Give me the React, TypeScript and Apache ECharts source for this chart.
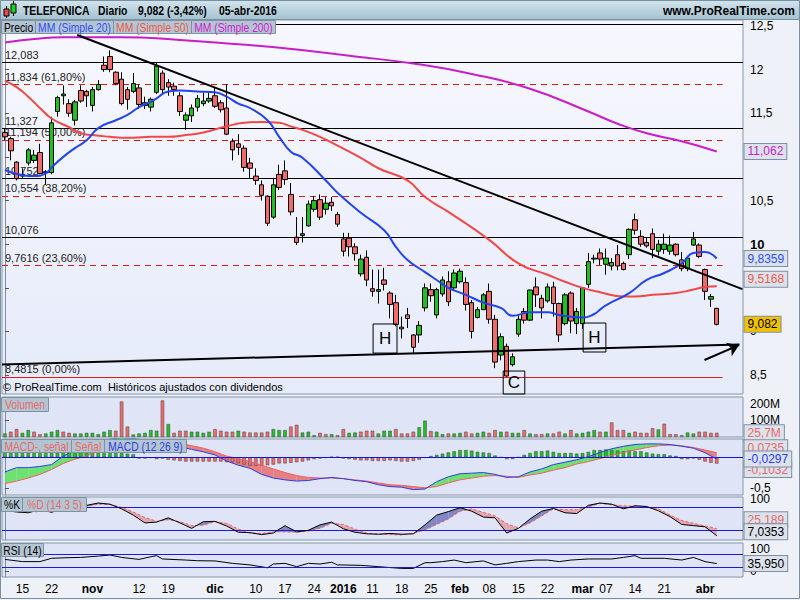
import React, { useEffect, useRef } from 'react';
import * as echarts from 'echarts';

const FONT = '"Liberation Sans", Arial, Helvetica, sans-serif';

// ---------- daily prices, 12-oct-2015 .. 05-abr-2016 (index 0..122) ----------
const openP = [
  11.28, 11.21, 10.94, 10.78, 10.93, 10.96, 11.05, 10.82, 10.82, 11.52,
  11.70, 11.61, 11.42, 11.76, 11.75, 11.59, 11.77, 12.05, 12.15, 11.97,
  11.89, 11.77, 11.75, 11.79, 11.59, 11.57, 11.74, 11.96, 11.85, 11.81,
  11.70, 11.42, 11.47, 11.57, 11.61, 11.64, 11.70, 11.62, 11.56, 11.18,
  11.15, 11.10, 10.93, 10.78, 10.68, 10.55, 10.31, 10.80, 10.84, 10.57,
  10.08, 10.10, 10.21, 10.40, 10.51, 10.40, 10.48, 10.34, 10.06, 10.07,
  9.97, 9.66, 9.85, 9.49, 9.46, 9.59, 9.44, 9.33, 9.05, 9.19,
  8.96, 8.96, 9.27, 9.48, 9.19, 9.43, 9.57, 9.50, 9.57, 9.56,
  9.33, 9.16, 9.25, 9.46, 9.14, 8.73, 8.83, 8.62, 8.97, 9.23,
  9.13, 9.51, 9.38, 9.35, 9.51, 9.32, 9.09, 9.44, 9.09, 9.09,
  9.54, 9.83, 9.90, 9.77, 9.75, 9.88, 9.78, 9.88, 10.28, 10.09,
  10.02, 10.12, 9.92, 9.94, 9.92, 10.00, 9.82, 9.72, 9.99, 9.99,
  9.71, 9.37, 9.265,
];
const highP = [
  11.33, 11.23, 10.95, 10.87, 11.10, 11.08, 11.15, 10.85, 11.46, 11.70,
  11.82, 11.66, 11.65, 11.82, 11.77, 11.80, 11.88, 12.15, 12.22, 11.98,
  11.97, 11.80, 11.96, 11.83, 11.69, 11.68, 12.08, 11.99, 11.89, 11.85,
  11.74, 11.51, 11.60, 11.71, 11.74, 11.75, 11.79, 11.65, 11.83, 11.21,
  11.26, 11.13, 10.99, 10.87, 10.73, 10.56, 10.76, 10.91, 10.96, 10.70,
  10.31, 10.31, 10.50, 10.55, 10.57, 10.54, 10.54, 10.37, 10.13, 10.13,
  10.01, 9.88, 9.93, 9.71, 9.71, 9.73, 9.46, 9.42, 9.17, 9.27,
  8.97, 9.12, 9.55, 9.55, 9.50, 9.63, 9.69, 9.71, 9.72, 9.62,
  9.36, 9.28, 9.44, 9.55, 9.19, 8.98, 8.86, 8.75, 9.19, 9.27,
  9.48, 9.62, 9.42, 9.55, 9.57, 9.33, 9.44, 9.46, 9.27, 9.51,
  9.90, 9.88, 9.95, 9.95, 9.84, 9.99, 9.80, 10.18, 10.35, 10.16,
  10.07, 10.18, 10.05, 10.12, 10.10, 10.01, 9.91, 9.86, 10.14, 10.01,
  9.72, 9.43, 9.27,
];
const lowP = [
  11.19, 10.96, 10.73, 10.76, 10.90, 10.93, 10.80, 10.68, 10.80, 11.46,
  11.60, 11.46, 11.36, 11.62, 11.57, 11.52, 11.76, 11.975, 11.97, 11.82,
  11.59, 11.54, 11.73, 11.55, 11.55, 11.52, 11.72, 11.71, 11.70, 11.70,
  11.47, 11.31, 11.40, 11.52, 11.58, 11.62, 11.56, 11.51, 11.25, 10.96,
  11.02, 10.83, 10.76, 10.68, 10.50, 10.21, 10.29, 10.62, 10.68, 10.33,
  9.99, 10.02, 10.20, 10.37, 10.28, 10.34, 10.38, 10.20, 9.86, 9.86,
  9.81, 9.63, 9.52, 9.40, 9.32, 9.47, 9.15, 9.06, 8.92, 9.04,
  8.74, 8.87, 9.23, 9.34, 9.15, 9.40, 9.29, 9.47, 9.55, 9.24,
  8.92, 9.15, 9.25, 9.09, 8.58, 8.67, 8.48, 8.60, 8.94, 9.09,
  9.12, 9.28, 9.15, 9.33, 9.17, 8.88, 9.07, 8.98, 8.97, 9.03,
  9.50, 9.78, 9.76, 9.65, 9.70, 9.70, 9.70, 9.83, 10.11, 9.97,
  9.96, 9.84, 9.87, 9.89, 9.88, 9.86, 9.69, 9.69, 9.98, 9.84,
  9.36, 9.28, 9.07,
];
const closeP = [
  11.23, 11.07, 10.75, 10.80, 11.08, 11.02, 10.81, 10.83, 11.39, 11.68,
  11.72, 11.50, 11.63, 11.64, 11.70, 11.77, 11.83, 12.00, 12.00, 11.84,
  11.61, 11.66, 11.84, 11.60, 11.62, 11.66, 12.04, 11.77, 11.80, 11.77,
  11.52, 11.48, 11.56, 11.67, 11.64, 11.67, 11.58, 11.54, 11.26, 11.08,
  11.11, 10.88, 10.87, 10.73, 10.56, 10.24, 10.68, 10.65, 10.74, 10.37,
  10.02, 10.12, 10.46, 10.50, 10.31, 10.47, 10.44, 10.23, 9.92, 9.97,
  9.89, 9.83, 9.59, 9.46, 9.48, 9.54, 9.31, 9.08, 9.03, 9.15,
  8.82, 9.07, 9.50, 9.41, 9.48, 9.59, 9.34, 9.67, 9.69, 9.31,
  9.00, 9.25, 9.42, 9.14, 8.65, 8.94, 8.49, 8.71, 9.14, 9.13,
  9.475, 9.42, 9.27, 9.51, 9.32, 8.96, 9.42, 9.12, 9.23, 9.50,
  9.80, 9.84, 9.83, 9.84, 9.79, 9.75, 9.71, 10.17, 10.16, 10.00,
  9.98, 9.94, 10.00, 10.00, 9.99, 9.88, 9.72, 9.84, 10.06, 9.86,
  9.46, 9.40, 9.082,
];

// volume in millions and bar colour (1 = green, 0 = red)
const volumeM = [
  21, 32, 48, 25, 42, 32, 17, 21, 32, 42,
  32, 25, 21, 21, 25, 25, 17, 32, 42, 38,
  215, 63, 15, 21, 25, 42, 38, 221, 78, 25,
  38, 38, 32, 32, 25, 32, 48, 38, 32, 32,
  38, 32, 27, 27, 27, 32, 48, 42, 42, 63,
  74, 27, 32, 11, 25, 17, 17, 11, 48, 25,
  27, 32, 38, 38, 21, 38, 38, 48, 21, 21,
  32, 59, 99, 36, 32, 17, 21, 21, 25, 32,
  21, 25, 32, 25, 42, 32, 32, 25, 25, 42,
  21, 17, 17, 21, 21, 32, 21, 42, 21, 25,
  32, 42, 32, 32, 88, 42, 42, 25, 32, 25,
  25, 53, 46, 80, 17, 17, 11, 27, 21, 32,
  32, 25, 25.7,
];
const volumeUp = [
  1, 0, 0, 1, 1, 0, 0, 1, 1, 1,
  0, 0, 1, 1, 1, 1, 1, 1, 1, 0,
  0, 0, 1, 1, 1, 1, 1, 0, 1, 0,
  0, 0, 1, 1, 1, 1, 0, 0, 0, 0,
  1, 0, 0, 0, 0, 0, 1, 1, 1, 0,
  0, 1, 1, 1, 0, 0, 1, 0, 0, 1,
  1, 0, 0, 0, 1, 1, 1, 0, 0, 0,
  0, 1, 1, 0, 1, 1, 0, 1, 1, 0,
  0, 1, 1, 0, 0, 1, 0, 1, 1, 0,
  1, 0, 0, 1, 0, 0, 1, 0, 1, 1,
  1, 1, 0, 1, 0, 0, 0, 1, 0, 0,
  0, 0, 1, 0, 0, 0, 0, 1, 1, 0,
  0, 0, 0,
];

// moving averages read at [index, value]
const ma20 = [[0,10.85],[3,10.79],[5,10.78],[7,10.81],[8,10.88],[10,11.00],[12,11.10],[14,11.19],[16,11.33],[19,11.42],[21,11.48],[23,11.57],[25,11.63],[26,11.67],[28,11.75],[30,11.76],[33,11.75],[36,11.74],[38,11.69],[40,11.61],[42,11.56],[45,11.42],[47,11.23],[49,11.06],[51,10.99],[55,10.73],[57,10.59],[61,10.36],[65,10.16],[67,9.97],[69,9.82],[72,9.68],[74,9.59],[76,9.50],[79,9.42],[82,9.33],[85,9.27],[87,9.18],[90,9.22],[93,9.22],[95,9.19],[97,9.17],[99,9.16],[101,9.20],[102,9.25],[103,9.30],[107,9.44],[110,9.59],[113,9.67],[116,9.78],[118,9.90],[120,9.91],[122,9.8359]];
const ma50 = [[0,11.87],[2,11.80],[4,11.69],[6,11.56],[8,11.44],[11,11.34],[13,11.27],[15,11.25],[18,11.23],[20,11.22],[22,11.22],[25,11.23],[28,11.23],[31,11.25],[34,11.28],[38,11.35],[41,11.39],[44,11.40],[47,11.39],[49,11.35],[51,11.31],[54,11.23],[57,11.13],[61,10.99],[64,10.87],[69,10.73],[72,10.54],[76,10.37],[83,10.05],[88,9.78],[93,9.65],[96,9.57],[99,9.50],[102,9.45],[106,9.40],[108,9.40],[111,9.42],[115,9.44],[118,9.48],[120,9.51],[122,9.5168]];
const ma200 = [[0,12.31],[5,12.35],[10,12.37],[20,12.37],[30,12.34],[40,12.29],[50,12.23],[60,12.15],[70,12.07],[80,11.95],[90,11.78],[100,11.52],[105,11.38],[110,11.27],[116,11.18],[122,11.062]];

// indicators read every second session
const indIdx = [0,2,4,6,8,10,12,14,16,18,20,22,24,26,28,30,32,34,36,38,40,42,44,46,48,50,52,54,56,58,60,62,64,66,68,70,72,74,76,78,80,82,84,86,88,90,92,94,96,98,100,102,104,106,108,110,112,114,116,118,120,122];
const macdLine = [-0.24,-0.17,-0.17,-0.15,-0.12,0.02,0.12,0.20,0.26,0.30, 0.32,0.31,0.28,0.26,0.22,0.17,0.13,0.09,0.04,-0.06, -0.13,-0.18,-0.28,-0.34,-0.37,-0.39,-0.38,-0.35,-0.33,-0.35, -0.38,-0.40,-0.45,-0.48,-0.49,-0.53,-0.52,-0.40,-0.32,-0.27, -0.26,-0.25,-0.28,-0.33,-0.32,-0.24,-0.19,-0.12,-0.08,-0.04, 0.01,0.08,0.14,0.18,0.21,0.22,0.22,0.21,0.18,0.15, 0.075,-0.0297];
const signalLine = [-0.43,-0.39,-0.34,-0.28,-0.20,-0.10,-0.03,0.02,0.10,0.16, 0.21,0.25,0.27,0.27,0.26,0.23,0.19,0.15,0.09,0.02, -0.02,-0.07,-0.13,-0.19,-0.25,-0.30,-0.33,-0.34,-0.34,-0.35, -0.37,-0.39,-0.42,-0.45,-0.46,-0.48,-0.50,-0.48,-0.42,-0.37, -0.34,-0.31,-0.30,-0.31,-0.33,-0.29,-0.26,-0.21,-0.17,-0.11, -0.07,-0.02,0.03,0.08,0.12,0.16,0.19,0.20,0.19,0.16, 0.12,0.0735];
const macdHist = [
  0.19,0.19,0.18,0.18,0.18,0.17,0.16,0.15,0.14,0.15,
  0.16,0.17,0.17,0.16,0.15,0.14,0.13,0.13,0.12,0.10,
  0.08,0.06,0.05,-0.02,-0.02,-0.01,-0.03,-0.02,-0.04,-0.05,
  -0.06,-0.07,-0.07,-0.07,-0.07,-0.07,-0.07,-0.07,-0.08,-0.08,
  -0.10,-0.12,-0.14,-0.14,-0.14,-0.13,-0.12,-0.10,-0.10,-0.09,
  -0.08,-0.07,-0.05,-0.03,-0.02,-0.01,0.01,0.01,-0.02,-0.03,
  -0.04,-0.05,-0.05,-0.06,-0.06,-0.06,-0.05,-0.06,-0.07,-0.07,
  -0.06,-0.04,-0.01,0.02,0.04,0.06,0.08,0.10,0.12,0.12,
  0.11,0.09,0.08,0.07,0.03,0.00,-0.03,-0.03,0.00,0.04,
  0.07,0.10,0.10,0.11,0.09,0.07,0.07,0.07,0.06,0.07,
  0.09,0.12,0.12,0.13,0.12,0.11,0.10,0.11,0.10,0.10,
  0.08,0.06,0.05,0.05,0.03,0.02,-0.03,-0.03,-0.02,-0.04,
  -0.07,-0.09,-0.1032,
];
const stochK = [72,68,66,75,67,78,80,85,91,88, 76,60,40,42,53,40,26,43,44,32, 16,15,10,14,33,17,21,35,42,25, 16,12,11,13,11,12,35,60,69,79, 70,55,53,14,26,50,70,77,66,64, 85,91,88,76,84,82,71,56,36,33, 30,7.0353];
const stochD = [70,70,68,69,70,72,76,82,88,87, 80,68,54,44,48,43,33,34,43,39, 24,14,13,17,17,16,19,26,39,36, 24,14,11,10,9,13,22,36,50,70, 76,67,58,38,27,40,58,76,74,74, 81,90,86,84,82,80,76,60,46,39, 32,25.189];
const rsiPts = [[0,55],[3,45],[6,45],[8,60],[11,63],[13,64],[16,70],[18,75],[20,64],[23,55],[25,67],[26,72],[27,57],[31,52],[33,49],[36,48],[39,37],[42,30],[45,17],[46,34],[48,37],[50,22],[52,37],[54,34],[56,42],[57,30],[61,28],[64,22],[68,14],[70,14],[72,40],[73,40],[75,45],[77,52],[79,40],[82,48],[84,30],[86,37],[88,45],[91,52],[93,52],[95,45],[97,52],[100,57],[104,57],[106,64],[108,72],[109,60],[113,60],[116,52],[118,64],[120,45],[122,35.95]];

// horizontal levels and their captions
const levelValues = [12.083, 11.834, 11.327, 11.194, 10.752, 10.554, 10.076, 9.7616, 8.4815];
const levelLabels = ['12,083', '11,834 (61,80%)', '11,327', '11,194 (50,00%)', '10,752', '10,554 (38,20%)', '10,076', '9,7616 (23,60%)', '8,4815 (0,00%)'];
const levelKind = ['solid', 'dash', 'solid', 'dash', 'solid', 'dash', 'solid', 'dash', 'red'];

// x axis ticks (session index -> label)
const xTickIdx = [3, 8, 15, 23, 28, 36, 43, 48, 53, 58, 63, 68, 73, 78, 83, 88, 93, 99, 103, 108, 113, 120];
const xTickText = ['15', '22', 'nov', '12', '19', 'dic', '10', '17', '24', '2016', '11', '18', '25', 'feb', '08', '15', '22', 'mar', '07', '14', '21', 'abr'];
const monthTicks = ['nov', 'dic', '2016', 'feb', 'mar', 'abr'];

const mainTicks = [8.5, 9, 9.5, 10, 10.5, 11, 11.5, 12, 12.5];
const mainTickLabels = [8.5, 9, 10, 10.5, 11.5, 12, 12.5];

const NCAT = 127;
const XMIN = -0.5;
const XMAX = 126.5;

const GREEN = '#20c020';
const RED = '#f06a6a';
const PANEL_BG = '#dfe5f7';
const BORDER = '#8797ab';

function fmtNum(v: number) {
  return String(v).replace('.', ',');
}

function tag(value: number, text: string, color: string, dy = 0, bg = '#dbe2ec') {
  return {
    coord: [XMAX, value],
    symbol: 'rect',
    symbolSize: 1,
    itemStyle: { color: 'rgba(0,0,0,0)' },
    label: {
      show: true, position: 'right', distance: 1, offset: [0, dy], formatter: text,
      color, backgroundColor: bg, borderColor: '#7f8fa2', borderWidth: 1,
      padding: [2, 3, 1, 3], fontSize: 12, fontFamily: FONT,
    },
  };
}

function fillRenderer(upColor: string, downColor: string) {
  return (params: any, api: any) => {
    const x0 = api.value(0), a0 = api.value(1), b0 = api.value(2);
    const x1 = api.value(3), a1 = api.value(4), b1 = api.value(5);
    const d0 = a0 - b0, d1 = a1 - b1;
    const P = (x: number, y: number) => api.coord([x, y]);
    const poly = (pts: number[][], up: boolean) => ({
      type: 'polygon', shape: { points: pts }, style: { fill: up ? upColor : downColor }, silent: true,
    });
    const children: any[] = [];
    if (d0 * d1 >= 0) {
      children.push(poly([P(x0, a0), P(x1, a1), P(x1, b1), P(x0, b0)], d0 + d1 >= 0));
    } else {
      const t = d0 / (d0 - d1);
      const xc = x0 + t * (x1 - x0);
      const yc = a0 + t * (a1 - a0);
      children.push(poly([P(x0, a0), P(xc, yc), P(x0, b0)], d0 > 0));
      children.push(poly([P(xc, yc), P(x1, a1), P(x1, b1)], d1 > 0));
    }
    return { type: 'group', children };
  };
}

function pairRows(a: number[], b: number[]) {
  const rows: number[][] = [];
  for (let k = 0; k < indIdx.length - 1; k++) {
    rows.push([indIdx[k], a[k], b[k], indIdx[k + 1], a[k + 1], b[k + 1]]);
  }
  return rows;
}

function labelBoxes(x: number, y: number, h: number, items: { t: string; c: string; w: number }[]) {
  const out: any[] = [];
  let cx = x;
  items.forEach((it) => {
    out.push({ type: 'rect', shape: { x: cx + 0.5, y: y + 0.5, width: it.w, height: h }, style: { fill: '#b3c5d2', stroke: '#7d93a4', lineWidth: 1 }, z: 100 });
    out.push({ type: 'text', x: cx + it.w / 2 + 0.5, y: y + h / 2 + 1, scaleX: 0.86, style: { text: it.t, fill: it.c, font: `12px ${FONT}`, align: 'center', verticalAlign: 'middle' }, z: 101 });
    cx += it.w;
  });
  return out;
}

function titleText(x: number, text: string) {
  return { type: 'text', x, y: 10, scaleX: 0.8, style: { text, fill: '#000', font: `bold 13px ${FONT}`, verticalAlign: 'middle' }, z: 101 };
}

function buildOption() {
  const cats = Array.from({ length: NCAT }, (_, i) => String(i));
  const candleData = openP.map((o, i) => [o, closeP[i], lowP[i], highP[i]]);
  const volData = volumeM.map((v, i) => ({ value: [i, v], itemStyle: { color: volumeUp[i] ? GREEN : RED } }));
  const histData = macdHist.map((v, i) => ({ value: [i, v], itemStyle: { color: v >= 0 ? GREEN : RED } }));

  const grids = [
    { top: 20, height: 374 },
    { top: 397, height: 40 },
    { top: 439, height: 56 },
    { top: 497, height: 43 },
    { top: 543, height: 34 },
  ].map((g, i) => ({
    left: 2, width: 741, top: g.top, height: g.height, show: true,
    backgroundColor: i === 0
      ? new echarts.graphic.LinearGradient(0, 0, 0, 1, [{ offset: 0, color: '#f7f8fe' }, { offset: 1, color: '#e6ebfa' }])
      : PANEL_BG,
    borderColor: BORDER, borderWidth: 1,
  }));

  const hiddenX = (gridIndex: number) => ({ type: 'value', gridIndex, min: XMIN, max: XMAX, show: false });

  const axisLabelBase = { color: '#000', fontSize: 12, fontFamily: FONT, margin: 7 };
  const rightY = (gridIndex: number, min: number, max: number, ticks: number[], labels: number[], formatter: any, extra: any = {}) => ({
    type: 'value', gridIndex, position: 'right', min, max, scale: true,
    splitLine: { show: false },
    axisLine: { show: true, lineStyle: { color: '#7f8fa2' } },
    axisTick: { show: true, inside: false, length: 4, customValues: ticks, lineStyle: { color: '#555' } },
    axisLabel: { ...axisLabelBase, customValues: labels, formatter, ...extra },
  });

  const levelLines = levelValues.map((v, i) => {
    const red = levelKind[i] !== 'solid';
    return [
      {
        coord: [XMIN, v],
        lineStyle: { color: red ? '#e01818' : '#000', type: levelKind[i] === 'dash' ? [6, 5] : 'solid', width: 1 },
        label: { show: true, position: 'insideStartTop', formatter: levelLabels[i], color: '#222', fontSize: 11, fontFamily: FONT, distance: [3, 2] },
      },
      { coord: [red ? 123 : XMAX, v] },
    ];
  });
  levelLines.push([
    { coord: [XMIN, 12.52], lineStyle: { color: '#000', type: 'solid', width: 1 }, label: { show: false } } as any,
    { coord: [XMAX, 12.52] },
  ]);

  const trendLines = [
    [{ coord: [12.4, 12.396], symbol: 'none' }, { coord: [126.4, 9.486], symbol: 'none' }],
    [{ coord: [XMIN, 8.623], symbol: 'none' }, { coord: [125.9, 8.85], symbol: 'none' }],
    [{ coord: [119.9, 8.673], symbol: 'none' }, { coord: [125.8, 8.843], symbol: 'arrow' }],
  ];

  const boxes = [
    [{ coord: [63.1, 9.086], label: { formatter: 'H' } }, { coord: [67.2, 8.753] }],
    [{ coord: [99.1, 9.097], label: { formatter: 'H' } }, { coord: [103.0, 8.765] }],
    [{ coord: [85.4, 8.547], label: { formatter: 'C' } }, { coord: [89.1, 8.2] }],
  ];

  const graphics: any[] = [
    { type: 'rect', shape: { x: 0, y: 0, width: 800, height: 19 }, style: { fill: new echarts.graphic.LinearGradient(0, 0, 0, 1, [{ offset: 0, color: '#d2e5ee' }, { offset: 1, color: '#a6c3d1' }]) }, z: 100 },
    { type: 'line', shape: { x1: 0, y1: 19.5, x2: 800, y2: 19.5 }, style: { stroke: '#7a93a3', lineWidth: 1 }, z: 100 },
    { type: 'line', shape: { x1: 6.5, y1: 6, x2: 6.5, y2: 18 }, style: { stroke: '#000', lineWidth: 1 }, z: 100 },
    { type: 'rect', shape: { x: 4, y: 9, width: 5, height: 7 }, style: { fill: '#e84a4a', stroke: '#000', lineWidth: 1 }, z: 101 },
    { type: 'line', shape: { x1: 13.5, y1: 1, x2: 13.5, y2: 16 }, style: { stroke: '#000', lineWidth: 1 }, z: 100 },
    { type: 'rect', shape: { x: 11, y: 4, width: 5, height: 9 }, style: { fill: '#20d020', stroke: '#000', lineWidth: 1 }, z: 101 },
    titleText(23, 'TELEFONICA'),
    titleText(98, 'Diario'),
    titleText(138, '9,082 (-3,42%)'),
    titleText(219, '05-abr-2016'),
    { type: 'text', x: 795, y: 11, style: { text: 'www.ProRealTime.com', fill: '#000', font: `bold 12px ${FONT}`, align: 'right', verticalAlign: 'middle' }, z: 101 },
    ...labelBoxes(1, 20, 13, [
      { t: 'Precio', c: '#000', w: 34 },
      { t: 'MM (Simple 20)', c: '#2f4ff2', w: 78 },
      { t: 'MM (Simple 50)', c: '#ee5a4a', w: 78 },
      { t: 'MM (Simple 200)', c: '#d01ed0', w: 84 },
    ]),
    { type: 'text', x: 3, y: 387, style: { text: '© ProRealTime.com  Históricos ajustados con dividendos', fill: '#000', font: `11px ${FONT}`, verticalAlign: 'middle' }, z: 101 },
    ...labelBoxes(1, 397, 14, [{ t: 'Volumen', c: '#e86a6a', w: 47 }]),
    ...labelBoxes(1, 439, 13, [
      { t: 'MACD-, señal', c: '#e86a6a', w: 70 },
      { t: 'Señal', c: '#e86a6a', w: 33 },
      { t: 'MACD (12 26 9)', c: '#3040e0', w: 82 },
    ]),
    ...labelBoxes(1, 497, 14, [
      { t: '%K', c: '#000', w: 21 },
      { t: '%D (14 3 5)', c: '#e86a6a', w: 64 },
    ]),
    ...labelBoxes(1, 543, 13, [{ t: 'RSI (14)', c: '#000', w: 42 }]),
    { type: 'rect', shape: { x: 0.5, y: 0.5, width: 799, height: 598 }, style: { fill: 'none', stroke: '#7a8fa0', lineWidth: 1 }, z: 102, silent: true },
  ];

  return {
    animation: false,
    backgroundColor: '#eef1f8',
    textStyle: { fontFamily: FONT },
    graphic: graphics,
    grid: grids,
    xAxis: [
      { type: 'category', gridIndex: 0, data: cats, boundaryGap: true, show: false },
      hiddenX(0),
      hiddenX(1),
      hiddenX(2),
      hiddenX(3),
      {
        type: 'value', gridIndex: 4, min: XMIN, max: XMAX,
        splitLine: { show: false }, axisLine: { show: false },
        axisTick: { show: false },
        axisLabel: {
          color: '#000', fontSize: 12, fontFamily: FONT, margin: 6,
          customValues: xTickIdx,
          formatter: (v: number) => {
            const k = xTickIdx.indexOf(Math.round(v));
            if (k < 0) return '';
            const t = xTickText[k];
            return monthTicks.includes(t) ? `{m|${t}}` : t;
          },
          rich: { m: { fontWeight: 'bold', fontSize: 12, fontFamily: FONT, color: '#000' } },
        },
      },
    ],
    yAxis: [
      rightY(0, 8.284, 12.568, mainTicks, mainTickLabels, (v: number) => (v === 10 ? '{b|10}' : fmtNum(v)), { rich: { b: { fontWeight: 'bold', fontSize: 13, fontFamily: FONT, color: '#000' } } }),
      rightY(1, 0, 242, [100, 200], [100, 200], (v: number) => `${v}M`),
      rightY(2, -0.618, 0.30, [-0.5], [-0.5], (v: number) => fmtNum(v)),
      rightY(3, -3.85, 106.4, [100], [100], (v: number) => String(v), { padding: [7, 0, 0, 0] }),
      rightY(4, -25, 129.5, [0, 100], [0, 100], (v: number) => String(v)),
    ],
    series: [
      {
        name: 'levels', type: 'line', xAxisIndex: 1, yAxisIndex: 0, data: [[XMIN, null]], showSymbol: false, silent: true,
        markLine: { silent: true, symbol: ['none', 'none'], z: 1, data: levelLines },
        markArea: {
          silent: true, z: 6,
          itemStyle: { color: 'rgba(0,0,0,0)', borderColor: '#000', borderWidth: 1 },
          label: { show: true, position: 'inside', color: '#000', fontSize: 17, fontFamily: FONT },
          data: boxes,
        },
      },
      {
        name: 'Precio', type: 'candlestick', xAxisIndex: 0, yAxisIndex: 0, data: candleData, barWidth: 5, z: 3,
        itemStyle: { color: GREEN, color0: RED, borderColor: '#000', borderColor0: '#000', borderWidth: 1 },
      },
      {
        name: 'MM200', type: 'line', xAxisIndex: 1, yAxisIndex: 0, data: ma200, smooth: true, showSymbol: false, z: 4,
        lineStyle: { color: '#c81ec8', width: 2 },
        markPoint: {
          z: 10,
          data: [
            tag(11.062, '11,062', '#c81ec8'),
            tag(9.8359, '9,8359', '#2f4ff2'),
            tag(9.5168, '9,5168', '#ee5a4a', -7),
            tag(9.082, '9,082', '#000', 0, '#f2c200'),
          ],
        },
      },
      { name: 'MM50', type: 'line', xAxisIndex: 1, yAxisIndex: 0, data: ma50, smooth: true, showSymbol: false, z: 4, lineStyle: { color: '#f04848', width: 2 } },
      { name: 'MM20', type: 'line', xAxisIndex: 1, yAxisIndex: 0, data: ma20, smooth: true, showSymbol: false, z: 4, lineStyle: { color: '#2244ee', width: 2 } },
      {
        name: 'trend', type: 'line', xAxisIndex: 1, yAxisIndex: 0, data: [[XMIN, null]], showSymbol: false, silent: true,
        markLine: { silent: true, symbol: ['none', 'none'], symbolSize: 11, z: 7, lineStyle: { color: '#000', width: 2, type: 'solid' }, label: { show: false }, data: trendLines },
      },
      {
        name: 'Volumen', type: 'bar', xAxisIndex: 2, yAxisIndex: 1, data: volData, barWidth: 3.5,
        itemStyle: { borderColor: '#444', borderWidth: 0.5 },
        markPoint: { z: 10, data: [tag(25.7, '25,7M', '#e86a6a')] },
      },
      {
        name: 'macdFill', type: 'custom', xAxisIndex: 3, yAxisIndex: 2, renderItem: fillRenderer('rgba(90,225,90,0.85)', 'rgba(232,110,110,0.85)'),
        data: pairRows(macdLine, signalLine), encode: { x: [0, 3], y: [1, 2, 4, 5] }, silent: true, z: 2,
      },
      {
        name: 'hist', type: 'bar', xAxisIndex: 3, yAxisIndex: 2, data: histData, barWidth: 3.5, z: 3,
        itemStyle: { borderColor: '#444', borderWidth: 0.5 },
        markLine: { silent: true, symbol: ['none', 'none'], label: { show: false }, lineStyle: { color: '#1010e0', width: 1, type: 'solid' }, data: [{ yAxis: 0 }] },
      },
      {
        name: 'Señal', type: 'line', xAxisIndex: 3, yAxisIndex: 2, data: indIdx.map((x, k) => [x, signalLine[k]]), showSymbol: false, z: 4,
        lineStyle: { color: '#f06060', width: 1 },
        markPoint: { z: 10, data: [tag(0.0735, '0,0735', '#e86a6a', -5), tag(-0.1032, '-0,1032', '#e86a6a', 6)] },
      },
      {
        name: 'MACD', type: 'line', xAxisIndex: 3, yAxisIndex: 2, data: indIdx.map((x, k) => [x, macdLine[k]]), showSymbol: false, z: 5,
        lineStyle: { color: '#2a3cf0', width: 1 },
        markPoint: { z: 11, data: [tag(-0.0297, '-0,0297', '#2a3cf0', 0)] },
      },
      {
        name: 'stochFill', type: 'custom', xAxisIndex: 4, yAxisIndex: 3, renderItem: fillRenderer('rgba(96,104,180,0.75)', 'rgba(225,140,150,0.7)'),
        data: pairRows(stochK, stochD), encode: { x: [0, 3], y: [1, 2, 4, 5] }, silent: true, z: 2,
      },
      {
        name: '%D', type: 'line', xAxisIndex: 4, yAxisIndex: 3, data: indIdx.map((x, k) => [x, stochD[k]]), showSymbol: false, z: 4,
        lineStyle: { color: '#f06060', width: 1, type: [3, 2] },
        markLine: { silent: true, symbol: ['none', 'none'], label: { show: false }, lineStyle: { color: '#1a1ad8', width: 1, type: 'solid' }, data: [{ yAxis: 80 }, { yAxis: 20 }] },
        markPoint: { z: 10, data: [tag(25.189, '25,189', '#e86a6a', -9)] },
      },
      {
        name: '%K', type: 'line', xAxisIndex: 4, yAxisIndex: 3, data: indIdx.map((x, k) => [x, stochK[k]]), showSymbol: false, z: 5,
        lineStyle: { color: '#000', width: 1 },
        markPoint: { z: 11, data: [tag(7.0353, '7,0353', '#000', -4)] },
      },
      {
        name: 'RSI', type: 'line', xAxisIndex: 5, yAxisIndex: 4, data: rsiPts, showSymbol: false, z: 4,
        lineStyle: { color: '#000', width: 1 },
        markLine: { silent: true, symbol: ['none', 'none'], label: { show: false }, lineStyle: { color: '#1a1ad8', width: 1, type: 'solid' }, data: [{ yAxis: 80 }, { yAxis: 20 }] },
        markPoint: { z: 10, data: [tag(35.95, '35,950', '#000')] },
      },
    ],
  };
}

export default function App() {
  const ref = useRef<HTMLDivElement>(null);
  useEffect(() => {
    document.body.style.margin = '0';
    const chart = echarts.init(ref.current as HTMLDivElement, undefined, { renderer: 'svg' });
    chart.setOption(buildOption() as any);
    return () => chart.dispose();
  }, []);
  return <div ref={ref} style={{ width: 800, height: 600 }} />;
}
